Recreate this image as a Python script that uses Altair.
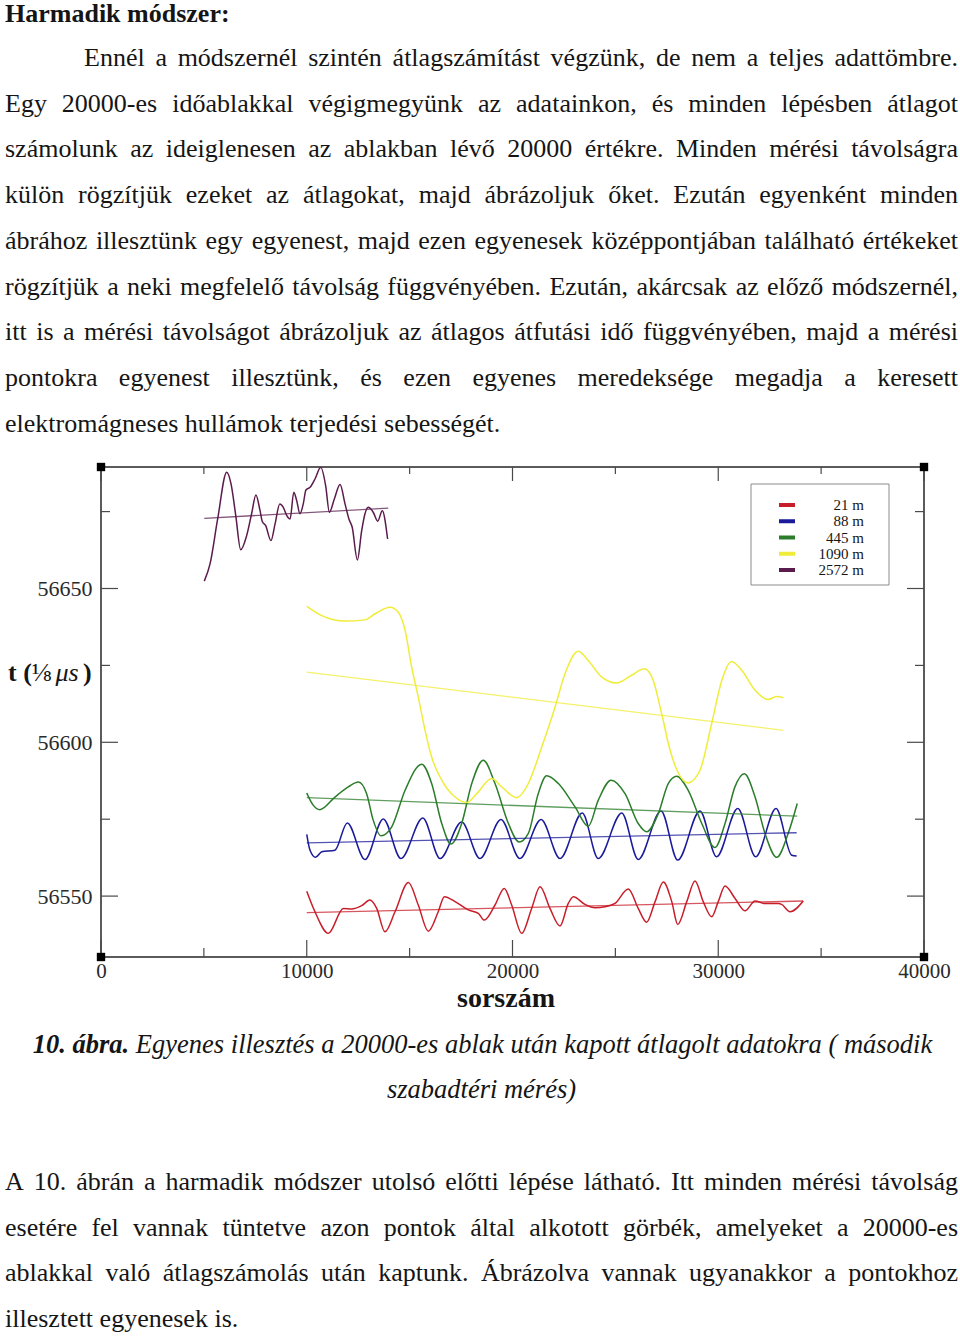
import unicodedata
import pandas as pd
import altair as alt

# ---------------- data ----------------
SERIES = ["21 m", "88 m", "445 m", "1090 m", "2572 m"]
COLORS = ["#c81e2a", "#1a1a9a", "#2b7d2b", "#f0ec3a", "#5a1c4c"]

red_x = [10000, 10400, 11050, 11780, 12180, 12670, 13070, 13400, 13800, 14290, 14940, 15420, 15910, 16390,
         16690, 17210, 17850, 18340, 18630, 19150, 19600, 19960, 20450, 20930, 21340, 21820, 22310, 22710,
         22960, 23520, 24010, 24500, 24980, 25630, 26110, 26520, 26930, 27330, 27740, 28030, 28470, 28870,
         29270, 29680, 30000, 30330, 30810, 31300, 31790, 32270, 32920, 33080, 33490, 34130]
red_y = [56551.6, 56544.9, 56537.9, 56546.0, 56545.8, 56546.9, 56548.7, 56546.0, 56538.4, 56544.9, 56554.4,
         56547.1, 56538.6, 56544.9, 56549.8, 56548.2, 56545.5, 56544.4, 56542.2, 56547.1, 56552.5, 56547.1,
         56537.9, 56546.0, 56553.0, 56546.0, 56540.3, 56547.6, 56549.8, 56547.3, 56546.2, 56546.5, 56547.6,
         56552.3, 56546.0, 56541.5, 56548.2, 56554.6, 56548.2, 56540.8, 56548.2, 56554.9, 56548.2, 56543.3,
         56548.2, 56553.3, 56549.3, 56545.2, 56548.4, 56547.6, 56547.6, 56547.3, 56544.9, 56548.4]

blue_x = [10000, 10160, 10430, 10730, 11370, 11970, 12830, 13720, 14580, 15640, 16480, 17530, 18420, 19440,
          20360, 21390, 22310, 23390, 24170, 25310, 26110, 27220, 28030, 29110, 29920, 30950, 31820, 32810,
          33570, 33810]
blue_y = [56570.1, 56564.9, 56562.6, 56564.4, 56564.9, 56573.8, 56561.9, 56575.1, 56562.2, 56575.4, 56562.2,
          56574.1, 56562.2, 56574.9, 56562.2, 56574.9, 56562.2, 56577.0, 56562.2, 56577.0, 56561.9, 56577.7,
          56561.7, 56577.7, 56562.8, 56578.5, 56562.8, 56578.5, 56563.3, 56563.0]

green_x = [10000, 10320, 10640, 11370, 12020, 12510, 12910, 13230, 13610, 14130, 14780, 15590, 16070, 16560,
           17010, 17530, 18020, 18580, 19150, 19800, 20320, 20770, 21250, 21660, 22230, 23040, 23680, 24170,
           24790, 25470, 26110, 26520, 27090, 27570, 27980, 28540, 29200, 29840, 30330, 30810, 31270, 31790,
           32270, 32840, 33400, 33840]
green_y = [56583.5, 56579.5, 56578.1, 56582.2, 56585.5, 56587.1, 56583.3, 56574.7, 56569.6, 56572.5, 56584.4,
           56592.9, 56586.6, 56573.6, 56566.9, 56573.6, 56586.6, 56594.2, 56586.6, 56573.6, 56567.6, 56570.4,
           56583.3, 56589.1, 56586.6, 56579.0, 56572.7, 56581.2, 56587.7, 56583.3, 56573.6, 56570.9, 56576.9,
           56586.6, 56589.0, 56584.4, 56573.6, 56565.8, 56573.6, 56585.5, 56589.8, 56582.2, 56570.4, 56562.6,
           56570.4, 56580.1]

yellow_x = [10000, 10730, 11860, 12830, 13320, 14050, 14450, 14780, 15100, 15420, 15750, 16070, 16560, 17210,
            17770, 18260, 18990, 19480, 20200, 20770, 21420, 22070, 22550, 23200, 23680, 24340, 25060, 25790,
            26410, 26840, 27250, 27660, 28540, 29110, 29680, 30170, 30650, 31140, 31790, 32430, 32840, 33160]
yellow_y = [56644.2, 56641.2, 56639.4, 56639.8, 56641.8, 56643.9, 56642.3, 56636.4, 56624.4, 56614.7, 56603.9,
            56595.2, 56587.7, 56582.2, 56580.4, 56583.3, 56588.2, 56585.5, 56582.0, 56586.6, 56598.5, 56611.5,
            56622.3, 56629.6, 56626.6, 56621.2, 56619.3, 56621.8, 56623.9, 56620.1, 56609.3, 56597.4, 56586.8,
            56590.9, 56606.1, 56620.1, 56626.3, 56623.4, 56616.9, 56613.9, 56614.9, 56614.5]

purple_x = [5020, 5300, 5670, 6110, 6320, 6550, 6790, 7080, 7320, 7530, 7730, 7840, 8000, 8260, 8460, 8690,
            8860, 9030, 9190, 9370, 9510, 9670, 9830, 9960, 10160, 10400, 10680, 10920, 11100, 11340, 11620,
            11860, 12050, 12210, 12460, 12670, 12830, 12990, 13230, 13450, 13670, 13930]
purple_y = [56652.4, 56658.0, 56672.6, 56687.8, 56684.0, 56673.7, 56662.6, 56667.2, 56674.3, 56680.4, 56675.3,
            56671.8, 56670.5, 56665.6, 56671.0, 56677.5, 56676.4, 56673.7, 56672.6, 56681.3, 56678.6, 56674.3,
            56677.5, 56682.0, 56682.9, 56685.6, 56689.4, 56683.4, 56674.8, 56679.1, 56683.8, 56677.5, 56672.6,
            56669.9, 56659.3, 56668.8, 56674.3, 56676.4, 56674.8, 56671.9, 56675.3, 56666.1]

# fitted straight lines (start / end)
fit_x0 = [10000, 10000, 10000, 10000, 5020]
fit_x1 = [34130, 33810, 33840, 33160, 13960]
fit_y0 = [56544.6, 56567.3, 56582.0, 56622.8, 56672.8]
fit_y1 = [56548.4, 56570.6, 56576.0, 56603.9, 56676.1]

X_DOMAIN = [0, 40000]
Y_DOMAIN = [56530.2, 56689.5]
X_LABELS = [0, 10000, 20000, 30000, 40000]
X_MINOR = [5000, 15000, 25000, 35000]
Y_LABELS = [56550, 56600, 56650]
Y_MINOR = [56575, 56625, 56675]

X_TITLE = "sorszám"
Y_TITLE = [("t (", "bold"), ("⅛", "regular"), (" μs", "italic"), (")", "bold")]

HEADING = "Harmadik módszer:"
PARA1 = [
    "Ennél a módszernél szintén átlagszámítást végzünk, de nem a teljes adattömbre.",
    "Egy 20000-es időablakkal végigmegyünk az adatainkon, és minden lépésben átlagot",
    "számolunk az ideiglenesen az ablakban lévő 20000 értékre. Minden mérési távolságra",
    "külön rögzítjük ezeket az átlagokat, majd ábrázoljuk őket. Ezután egyenként minden",
    "ábrához illesztünk egy egyenest, majd ezen egyenesek középpontjában található értékeket",
    "rögzítjük a neki megfelelő távolság függvényében. Ezután, akárcsak az előző módszernél,",
    "itt is a mérési távolságot ábrázoljuk az átlagos átfutási idő függvényében, majd a mérési",
    "pontokra egyenest illesztünk, és ezen egyenes meredeksége megadja a keresett",
    "elektromágneses hullámok terjedési sebességét.",
]
CAPTION_LABEL = "10. ábra."
CAPTION = [
    "Egyenes illesztés a 20000-es ablak után kapott átlagolt adatokra ( második",
    "szabadtéri mérés)",
]
PARA2 = [
    "A 10. ábrán a harmadik módszer utolsó előtti lépése látható. Itt minden mérési távolság",
    "esetére fel vannak tüntetve azon pontok által alkotott görbék, amelyeket a 20000-es",
    "ablakkal való átlagszámolás után kaptunk. Ábrázolva vannak ugyanakkor a pontokhoz",
    "illesztett egyenesek is.",
]

# ---------------- layout ----------------
PLOT_L, PLOT_T, PLOT_R, PLOT_B = 101, 467, 924, 957
PAGE_W, PAGE_H = 960, 1337
W, H = PLOT_R - PLOT_L, PLOT_B - PLOT_T
FONT = "Liberation Serif"
INK = "#151515"
TICK = "#4a4a4a"

# Times / Liberation Serif advance widths (1/1000 em)
LOW = "abcdefghijklmnopqrstuvwxyz"
REG = dict(zip(LOW, [444, 500, 444, 500, 444, 333, 500, 500, 278, 278, 500, 278, 778, 500, 500, 500, 500,
                     333, 389, 278, 500, 500, 722, 500, 500, 444]))
REG.update(dict(zip("ABCDEFGHIJKLMNOPQRSTUVWXYZ",
                    [722, 667, 667, 722, 611, 556, 722, 722, 333, 389, 722, 611, 889, 722, 722, 556, 722, 667,
                     556, 611, 722, 722, 944, 722, 722, 611])))
REG.update({" ": 250, ".": 250, ",": 250, ":": 278, "-": 333, "(": 333, ")": 333, "⅛": 750, "μ": 576})
BOLD = dict(REG)
BOLD.update(dict(zip(LOW, [500, 556, 444, 556, 444, 333, 500, 556, 278, 333, 556, 278, 833, 556, 500, 556,
                           556, 444, 389, 333, 556, 500, 722, 500, 500, 444])))
BOLD.update({"H": 778, ":": 333})
ITAL = dict(REG)
ITAL.update(dict(zip(LOW, [500, 500, 444, 500, 444, 278, 500, 500, 278, 278, 444, 278, 722, 500, 500, 500,
                           500, 389, 389, 278, 500, 444, 667, 444, 444, 389])))
BI = dict(BOLD)
BI.update({"a": 500, "b": 500, "r": 389})
TABLES = {"regular": REG, "bold": BOLD, "italic": ITAL, "bolditalic": BI}


def gw(ch, table):
    if ch in table:
        return table[ch]
    base = unicodedata.normalize("NFD", ch)[0]
    return table.get(base, 500)


def tw(s, style, size):
    t = TABLES[style]
    return sum(gw(c, t) for c in s) * size / 1000.0


trows = []


def add(text, cx, base, style, size):
    trows.append({"text": text, "px": cx - PLOT_L, "py": base - PLOT_T, "style": style, "fs": size})


def place_line(line, left, right, base, style, size, justify):
    words = line.split(" ")
    ws = [tw(w, style, size) for w in words]
    if justify and len(words) > 1:
        gap = (right - left - sum(ws)) / (len(words) - 1)
    else:
        gap = tw(" ", style, size)
    x = left
    for w, wd in zip(words, ws):
        add(w, x + wd / 2, base, style, size)
        x += wd + gap


FS = 26
LH = 45.7
add(HEADING, 5 + tw(HEADING, "bold", FS) / 2, 22, "bold", FS)
for k, line in enumerate(PARA1):
    place_line(line, 84 if k == 0 else 5, 958, 66 + LH * k, "regular", FS, k < len(PARA1) - 1)
for k, line in enumerate(PARA2):
    place_line(line, 5, 958, 1190 + LH * k, "regular", FS, k < len(PARA2) - 1)

# caption
CFS = 26.5
wl = tw(CAPTION_LABEL, "bolditalic", CFS)
wsp = tw(" ", "italic", CFS)
w1 = tw(CAPTION[0], "italic", CFS)
start = 482.5 - (wl + wsp + w1) / 2
add(CAPTION_LABEL, start + wl / 2, 1053, "bolditalic", CFS)
add(CAPTION[0], start + wl + wsp + w1 / 2, 1053, "italic", CFS)
add(CAPTION[1], 481.5, 1098, "italic", CFS)

# axis titles
add(X_TITLE, 506, 1007, "bold", 28)
xx = 8
for piece, st in Y_TITLE:
    wd = tw(piece, st, 26)
    add(piece, xx + wd / 2, 681, st, 26)
    xx += wd

# legend labels (right aligned at x=864)
LEG_Y0, LEG_DY = 505, 16.25
for i, s in enumerate(SERIES):
    add(s, 864 - tw(s, "regular", 15) / 2, LEG_Y0 + LEG_DY * i + 5, "regular", 15)

tdf = pd.DataFrame(trows)

# ---------------- chart ----------------
curve_x = dict(zip(SERIES, [red_x, blue_x, green_x, yellow_x, purple_x]))
curve_y = dict(zip(SERIES, [red_y, blue_y, green_y, yellow_y, purple_y]))
crow = []
for s in SERIES:
    for i, (xv, yv) in enumerate(zip(curve_x[s], curve_y[s])):
        crow.append({"series": s, "x": xv, "y": yv, "i": i})
curves = pd.DataFrame(crow)

frow = []
for s, a, b, c, d in zip(SERIES, fit_x0, fit_x1, fit_y0, fit_y1):
    frow.append({"series": s, "x": a, "y": c})
    frow.append({"series": s, "x": b, "y": d})
fits = pd.DataFrame(frow)

XS = alt.Scale(domain=X_DOMAIN, nice=False, zero=False)
YS = alt.Scale(domain=Y_DOMAIN, nice=False, zero=False)
CS = alt.Scale(domain=SERIES, range=COLORS)
SW = alt.Scale(domain=SERIES, range=[1.5, 1.5, 1.5, 2.3, 1.5])

XAX = alt.Axis(values=X_LABELS, format="d", ticks=False, domain=False, grid=False, title=None,
               labelFont=FONT, labelFontSize=21, labelColor="#2a2a2a", labelPadding=3,
               labelFlush=False, labelOverlap=False)
YAX = alt.Axis(values=Y_LABELS, format="d", ticks=False, domain=False, grid=False, title=None,
               labelFont=FONT, labelFontSize=22, labelColor="#2a2a2a", labelPadding=9,
               labelOverlap=False)

curve_layer = alt.Chart(curves).mark_line(interpolate="monotone", clip=True).encode(
    x=alt.X("x:Q", scale=XS, axis=XAX),
    y=alt.Y("y:Q", scale=YS, axis=YAX),
    color=alt.Color("series:N", scale=CS, legend=None),
    strokeWidth=alt.StrokeWidth("series:N", scale=SW, legend=None),
    order="i:Q",
)

fit_layer = alt.Chart(fits).mark_line(strokeWidth=1.3, opacity=0.75, clip=True).encode(
    x=alt.X("x:Q", scale=XS, axis=XAX),
    y=alt.Y("y:Q", scale=YS, axis=YAX),
    color=alt.Color("series:N", scale=CS, legend=None),
)


def vticks(vals, length, side):
    y0 = H if side == "bottom" else 0
    y1 = H - length if side == "bottom" else length
    return alt.Chart(pd.DataFrame({"v": vals})).mark_rule(color=TICK, strokeWidth=1.2).encode(
        x=alt.X("v:Q", scale=XS, axis=XAX), y=alt.value(y0), y2=alt.value(y1))


def hticks(vals, length, side):
    x0 = 0 if side == "left" else W
    x1 = length if side == "left" else W - length
    return alt.Chart(pd.DataFrame({"v": vals})).mark_rule(color=TICK, strokeWidth=1.2).encode(
        y=alt.Y("v:Q", scale=YS, axis=YAX), x=alt.value(x0), x2=alt.value(x1))


ticks = [
    vticks(X_LABELS, 17, "bottom"), vticks(X_MINOR, 9, "bottom"),
    vticks(X_LABELS, 14, "top"), vticks(X_MINOR, 7, "top"),
    hticks(Y_LABELS, 17, "left"), hticks(Y_MINOR, 9, "left"),
    hticks(Y_LABELS, 17, "right"), hticks(Y_MINOR, 9, "right"),
]

corners = alt.Chart(pd.DataFrame({"x": [X_DOMAIN[0], X_DOMAIN[1], X_DOMAIN[0], X_DOMAIN[1]],
                                  "y": [Y_DOMAIN[0], Y_DOMAIN[0], Y_DOMAIN[1], Y_DOMAIN[1]]})).mark_square(
    size=70, color="#000", opacity=1, filled=True).encode(
    x=alt.X("x:Q", scale=XS, axis=XAX), y=alt.Y("y:Q", scale=YS, axis=YAX))

legend_box = alt.Chart(pd.DataFrame({"a": [0]})).mark_rect(
    fill="white", stroke="#8c8c8c", strokeWidth=1).encode(
    x=alt.value(751 - PLOT_L), x2=alt.value(889 - PLOT_L),
    y=alt.value(484 - PLOT_T), y2=alt.value(585 - PLOT_T))

leg = pd.DataFrame({"series": SERIES,
                    "sx": [779 - PLOT_L] * len(SERIES),
                    "sx2": [795 - PLOT_L] * len(SERIES),
                    "sy": [LEG_Y0 - PLOT_T + LEG_DY * i for i in range(len(SERIES))]})
legend_sw = alt.Chart(leg).mark_rule(strokeWidth=4).encode(
    x=alt.X("sx:Q", scale=None, axis=None), x2="sx2:Q",
    y=alt.Y("sy:Q", scale=None, axis=None),
    color=alt.Color("series:N", scale=CS, legend=None))


def text_layer(style):
    kw = {}
    if "bold" in style:
        kw["fontWeight"] = "bold"
    if "italic" in style:
        kw["fontStyle"] = "italic"
    return alt.Chart(tdf).transform_filter(alt.datum.style == style).mark_text(
        font=FONT, align="center", baseline="alphabetic", color=INK, **kw).encode(
        x=alt.X("px:Q", scale=None, axis=None),
        y=alt.Y("py:Q", scale=None, axis=None),
        text="text:N",
        size=alt.Size("fs:Q", scale=None))


layers = [curve_layer, fit_layer] + ticks + [corners, legend_box, legend_sw] + [
    text_layer(s) for s in ["regular", "bold", "italic", "bolditalic"]]

chart = alt.layer(*layers).properties(
    width=W, height=H,
    padding={"left": PLOT_L, "top": PLOT_T, "right": PAGE_W - PLOT_R, "bottom": PAGE_H - PLOT_B},
    autosize=alt.AutoSizeParams(type="none"),
    background="white",
).configure_view(stroke="#262626", strokeWidth=1.5)

chart.save("out.html", embed_options={"renderer": "svg", "actions": False})
